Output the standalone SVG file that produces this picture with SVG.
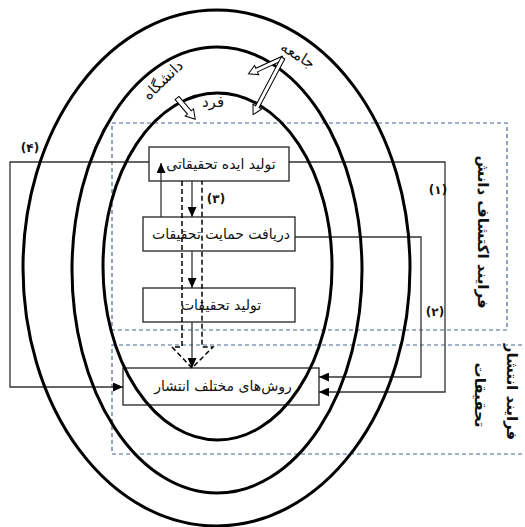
<svg xmlns="http://www.w3.org/2000/svg" width="525" height="527" viewBox="0 0 525 527">
<style>
.dash{fill:none;stroke:#4a6790;stroke-width:1.2;stroke-dasharray:4,3}
.box{fill:#fff;stroke:#222;stroke-width:1.3}
.ell{fill:none;stroke:#000;stroke-width:3}
.con{fill:none;stroke:#333;stroke-width:1.3}
.t{font-family:"DejaVu Sans",sans-serif;font-size:14px;fill:#111;text-anchor:middle;dominant-baseline:central}
.lb{font-family:"DejaVu Sans",sans-serif;font-size:12px;font-weight:bold;fill:#111;text-anchor:middle;dominant-baseline:central}
.vl{font-family:"DejaVu Sans",sans-serif;font-size:15px;font-weight:bold;fill:#111;text-anchor:middle;dominant-baseline:central}
.hollow{fill:#fff;stroke:#000;stroke-width:1}
</style>
<defs>
<marker id="ah" markerUnits="userSpaceOnUse" markerWidth="10" markerHeight="9" refX="10" refY="4.5" orient="auto">
<path d="M0,0 L10,4.5 L0,9 z" fill="#000"/>
</marker>
</defs>
<rect width="525" height="527" fill="#fff"/>
<g id="region-discovery">
<rect class="dash" x="112" y="123" width="395" height="207"/>
<text class="vl" transform="translate(483,232) rotate(90)">فرایند اکتشاف دانش</text>
</g>
<g id="region-dissemination">
<rect class="dash" x="112" y="345" width="420" height="109"/>
<text class="vl" transform="translate(512,392) rotate(90)">فرایند انتشار</text>
<text class="vl" transform="translate(480,395) rotate(90)">تحقیقات</text>
</g>
<g id="connectors">
<path class="con" d="M149 162 H10 V387 H123" marker-end="url(#ah)"/>
<path class="con" d="M289 162 H445 V392 H319" marker-end="url(#ah)"/>
<path class="con" d="M295 237 H421 V377 H319" marker-end="url(#ah)"/>
<text class="lb" x="30" y="148">(۴)</text>
<text class="lb" x="438" y="190">(۱)</text>
<text class="lb" x="435" y="312">(۲)</text>
</g>
<g id="node-idea">
<rect class="box" x="149" y="147" width="140" height="34"/>
<text class="t" x="221" y="164">تولید ایده تحقیقاتی</text>
</g>
<g id="node-support">
<rect class="box" x="143" y="217" width="152" height="34"/>
<text class="t" x="221" y="234">دریافت حمایت تحقیقات</text>
</g>
<g id="node-produce">
<rect class="box" x="143" y="288" width="152" height="34"/>
<text class="t" x="221" y="305">تولید تحقیقات</text>
</g>
<g id="node-publish">
<rect class="box" x="123" y="368" width="196" height="37"/>
<text class="t" x="223" y="386">روش‌های مختلف انتشار</text>
</g>
<g id="rings">
<ellipse class="ell" cx="216.5" cy="268" rx="193.5" ry="258"/>
<ellipse class="ell" cx="217" cy="270" rx="145" ry="223"/>
<ellipse class="ell" cx="217.5" cy="266.5" rx="114.5" ry="173.5"/>
<text class="t" transform="translate(298,55) rotate(32)" style="font-size:15px">جامعه</text>
<text class="t" transform="translate(163,80) rotate(-44)" style="font-size:15px">دانشگاه</text>
<text class="t" x="213" y="102" style="font-size:15px">فرد</text>
<polygon class="hollow" transform="translate(283,58) rotate(155.4)" points="0,-2 29,-2 29,-5 38,0 29,5 29,2 0,2"/>
<polygon class="hollow" transform="translate(283,58) rotate(117.8)" points="0,-2 55,-2 55,-5 64,0 55,5 55,2 0,2"/>
<polygon class="hollow" transform="translate(177,98) rotate(49.4)" points="0,-2.5 19,-2.5 19,-5.5 28,0 19,5.5 19,2.5 0,2.5"/>
</g>
<g id="flow-arrows">
<path class="con" d="M161 217 V163" marker-end="url(#ah)"/>
<path class="con" d="M192 181 V217" marker-end="url(#ah)"/>
<path class="con" d="M192 251 V288" marker-end="url(#ah)"/>
<path class="con" d="M192 322 V368" marker-end="url(#ah)"/>
<path d="M182 181 V347 H172 L192 368 L213 347 H202 V181" fill="none" stroke="#000" stroke-width="1.5" stroke-dasharray="5,3"/>
<text class="lb" x="216" y="199">(۳)</text>
</g>
</svg>
